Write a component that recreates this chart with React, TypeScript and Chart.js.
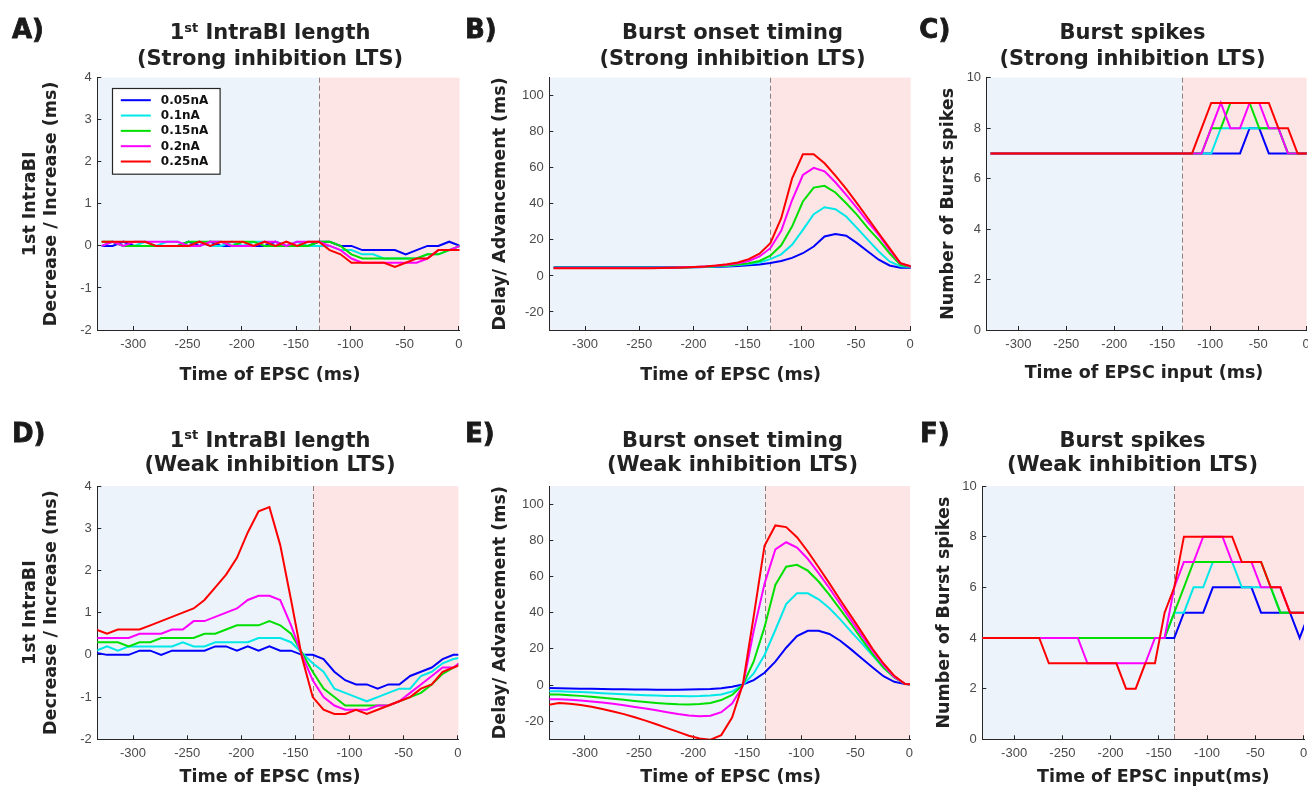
import React, { useEffect, useRef } from 'react';
import { Chart, registerables } from 'chart.js';

Chart.register(...registerables);

// ---------- data ----------
const strongTimes = [-329, -319, -309, -299, -289, -279, -269, -259, -249, -239, -229, -219, -209, -199, -189, -179, -169, -159, -149, -139, -129, -119, -109, -99, -89, -79, -69, -59, -49, -39, -29, -19, -9, 1];
const weakTimes = [-334, -324, -314, -304, -294, -284, -274, -264, -254, -244, -234, -224, -214, -204, -194, -184, -174, -164, -154, -144, -134, -124, -114, -104, -94, -84, -74, -64, -54, -44, -34, -24, -14, -4, 6];

const currentLabels = ['0.05nA', '0.1nA', '0.15nA', '0.2nA', '0.25nA'];
const seriesColors = ['#0000ff', '#00e8e8', '#00e000', '#ff00ff', '#ff0000'];

const strongOnsetTime = -129;
const weakOnsetTime = -134;

const timeTicks = [-300, -250, -200, -150, -100, -50, 0];
const intraTicks = [-2, -1, 0, 1, 2, 3, 4];
const onsetTicks = [-20, 0, 20, 40, 60, 80, 100];
const spikeTicks = [0, 2, 4, 6, 8, 10];

// A) 1st IntraBI length, strong inhibition
const intraStrong005 = [0, 0, 0.1, 0, 0, 0, 0, 0, 0.1, 0, 0.1, 0, 0, 0, 0, 0, 0.1, 0, 0, 0, 0.1, 0.1, 0, 0, -0.1, -0.1, -0.1, -0.1, -0.2, -0.1, 0, 0, 0.1, 0];
const intraStrong010 = [0, 0.1, 0, 0, 0.1, 0, 0.1, 0.1, 0, 0.1, 0, 0, 0.1, 0, 0.1, 0.1, 0, 0, 0.1, 0, 0, 0, -0.1, -0.1, -0.2, -0.2, -0.3, -0.3, -0.3, -0.3, -0.2, -0.2, -0.1, 0];
const intraStrong015 = [0.1, 0.1, 0, 0, 0, 0, 0, 0, 0.1, 0.1, 0.1, 0.1, 0, 0.1, 0.1, 0, 0, 0, 0, 0, 0.1, 0.1, 0, -0.2, -0.3, -0.3, -0.3, -0.3, -0.3, -0.3, -0.2, -0.2, -0.1, 0];
const intraStrong020 = [0, 0.1, 0, 0.1, 0.1, 0.1, 0.1, 0.1, 0, 0, 0.1, 0.1, 0, 0, 0, 0.1, 0.1, 0, 0.1, 0.1, 0.1, 0, -0.1, -0.3, -0.4, -0.4, -0.4, -0.4, -0.4, -0.4, -0.3, -0.1, -0.1, 0];
const intraStrong025 = [0.1, 0.1, 0.1, 0.1, 0.1, 0, 0, 0, 0, 0.1, 0, 0.1, 0.1, 0.1, 0, 0.1, 0, 0.1, 0, 0.1, 0.1, -0.1, -0.2, -0.4, -0.4, -0.4, -0.4, -0.5, -0.4, -0.3, -0.3, -0.1, -0.1, -0.1];

// B) Burst onset timing, strong inhibition
const onsetStrong005 = [4.8, 4.8, 4.8, 4.8, 4.8, 4.8, 4.8, 4.8, 4.8, 4.8, 4.8, 4.8, 4.8, 4.8, 4.9, 5.0, 5.2, 5.5, 5.9, 6.4, 7.2, 8.3, 10, 12.6, 16.3, 21.9, 23.2, 22.3, 18.2, 13.6, 9, 5.8, 4.5, 4.6];
const onsetStrong010 = [4.6, 4.6, 4.6, 4.6, 4.6, 4.6, 4.6, 4.6, 4.6, 4.6, 4.6, 4.6, 4.7, 4.8, 5.0, 5.2, 5.5, 6.0, 6.6, 7.5, 9.3, 12, 17.3, 25.6, 34.3, 38.1, 37, 33, 26.5, 20, 13.6, 8, 5.3, 5];
const onsetStrong015 = [4.5, 4.5, 4.5, 4.5, 4.5, 4.5, 4.5, 4.5, 4.5, 4.5, 4.5, 4.6, 4.7, 4.9, 5.1, 5.4, 5.8, 6.3, 7, 8.3, 11.2, 17, 27.4, 41.3, 49, 50, 46.3, 40.3, 33.9, 26.5, 20, 12.6, 6.2, 5];
const onsetStrong020 = [4.4, 4.4, 4.4, 4.4, 4.4, 4.4, 4.4, 4.4, 4.4, 4.4, 4.5, 4.6, 4.8, 5.0, 5.3, 5.7, 6.2, 7, 8.3, 10.8, 15.4, 25, 42, 56, 60, 58, 52, 45, 37.6, 30, 22.8, 14.5, 7, 5];
const onsetStrong025 = [4.3, 4.3, 4.3, 4.3, 4.3, 4.3, 4.3, 4.3, 4.3, 4.3, 4.4, 4.5, 4.7, 5.0, 5.3, 5.8, 6.5, 7.5, 9.3, 12.3, 18.2, 32, 54, 67.5, 67.5, 62.5, 55.7, 48.3, 40.3, 32, 23.7, 15.4, 7.1, 5.3];

// C) Burst spikes, strong inhibition
const spikesStrong005 = [7, 7, 7, 7, 7, 7, 7, 7, 7, 7, 7, 7, 7, 7, 7, 7, 7, 7, 7, 7, 7, 7, 7, 7, 7, 7, 7, 8, 8, 7, 7, 7, 7, 7];
const spikesStrong010 = [7, 7, 7, 7, 7, 7, 7, 7, 7, 7, 7, 7, 7, 7, 7, 7, 7, 7, 7, 7, 7, 7, 7, 7, 8, 8, 8, 8, 8, 8, 8, 7, 7, 7];
const spikesStrong015 = [7, 7, 7, 7, 7, 7, 7, 7, 7, 7, 7, 7, 7, 7, 7, 7, 7, 7, 7, 7, 7, 7, 7, 8, 8, 9, 9, 9, 8, 8, 8, 7, 7, 7];
const spikesStrong020 = [7, 7, 7, 7, 7, 7, 7, 7, 7, 7, 7, 7, 7, 7, 7, 7, 7, 7, 7, 7, 7, 7, 7, 8, 9, 8, 8, 9, 9, 8, 8, 7, 7, 7];
const spikesStrong025 = [7, 7, 7, 7, 7, 7, 7, 7, 7, 7, 7, 7, 7, 7, 7, 7, 7, 7, 7, 7, 7, 7, 8, 9, 9, 9, 9, 9, 9, 9, 8, 8, 7, 7];

// D) 1st IntraBI length, weak inhibition
const intraWeak005 = [0.05, 0, 0, 0, 0.1, 0.1, 0, 0.1, 0.1, 0.1, 0.1, 0.2, 0.2, 0.1, 0.2, 0.1, 0.2, 0.1, 0.1, 0, 0, -0.1, -0.4, -0.6, -0.7, -0.7, -0.8, -0.7, -0.7, -0.5, -0.4, -0.3, -0.1, 0, 0];
const intraWeak010 = [0.1, 0.2, 0.1, 0.2, 0.2, 0.2, 0.2, 0.2, 0.3, 0.2, 0.2, 0.3, 0.3, 0.3, 0.3, 0.4, 0.4, 0.4, 0.3, 0.05, -0.2, -0.4, -0.8, -0.9, -1.0, -1.1, -1.0, -0.9, -0.8, -0.8, -0.5, -0.4, -0.2, -0.1, -0.05];
const intraWeak015 = [0.3, 0.3, 0.3, 0.2, 0.3, 0.3, 0.4, 0.4, 0.4, 0.4, 0.5, 0.5, 0.6, 0.7, 0.7, 0.7, 0.8, 0.7, 0.5, 0.05, -0.4, -0.8, -1.0, -1.2, -1.2, -1.2, -1.2, -1.2, -1.1, -1.0, -0.9, -0.7, -0.45, -0.3, -0.15];
const intraWeak020 = [0.4, 0.4, 0.4, 0.4, 0.5, 0.5, 0.5, 0.6, 0.6, 0.8, 0.8, 0.9, 1.0, 1.1, 1.3, 1.4, 1.4, 1.3, 0.7, 0.0, -0.6, -1.0, -1.2, -1.3, -1.3, -1.3, -1.2, -1.2, -1.1, -0.9, -0.7, -0.5, -0.3, -0.3, -0.1];
const intraWeak025 = [0.6, 0.5, 0.6, 0.6, 0.6, 0.7, 0.8, 0.9, 1.0, 1.1, 1.3, 1.6, 1.9, 2.3, 2.9, 3.4, 3.5, 2.6, 1.3, -0.05, -1.0, -1.3, -1.4, -1.4, -1.3, -1.4, -1.3, -1.2, -1.1, -1.0, -0.8, -0.7, -0.4, -0.3, -0.2];

// E) Burst onset timing, weak inhibition
const onsetWeak005 = [-1.7, -1.8, -1.9, -2, -2.1, -2.2, -2.3, -2.4, -2.5, -2.5, -2.6, -2.6, -2.6, -2.5, -2.4, -2.2, -1.8, -1, 0.3, 2.7, 6.8, 12.9, 20.6, 27, 30, 30, 28.2, 24.5, 19.7, 14.7, 9.7, 4.9, 1.8, 0.5, 0.4];
const onsetWeak010 = [-3.4, -3.5, -3.7, -3.9, -4.2, -4.5, -4.8, -5.1, -5.4, -5.6, -5.8, -6, -6.1, -6.2, -6.1, -5.8, -5.2, -3.6, 0, 6.4, 16.6, 30.4, 44.7, 50.7, 50.7, 47.4, 42.4, 36.3, 29.5, 23, 16.2, 9.5, 4.2, 0.5, 0.4];
const onsetWeak015 = [-5.2, -5.3, -5.6, -6, -6.5, -7, -7.6, -8.2, -8.8, -9.4, -9.9, -10.3, -10.6, -10.7, -10.5, -9.9, -8.3, -5.5, 0, 13, 32, 55.3, 65.4, 66.4, 63.2, 57.2, 49.8, 41.8, 33.7, 25.2, 17.1, 9.7, 4.2, 0.5, 0.4];
const onsetWeak020 = [-7.8, -7.9, -8.2, -8.6, -9.1, -9.7, -10.4, -11.2, -12.1, -13, -14, -15, -16, -16.8, -17.2, -17, -15, -10.2, -0.5, 30, 56, 75, 78.9, 76, 69.7, 61.8, 53.5, 44.8, 35.9, 27.2, 18.9, 11, 4.5, 0.5, 0.4];
const onsetWeak025 = [-11, -10, -10.4, -11, -12, -13.2, -14.6, -16.1, -17.8, -19.7, -21.7, -23.8, -25.9, -28, -29.5, -30.2, -27.7, -18, 0.5, 38, 77, 88.2, 87.3, 81.7, 73.8, 65.1, 56.2, 47, 38.1, 29.1, 19.9, 11.9, 5.1, 0.5, 0.4];

// F) Burst spikes, weak inhibition
const spikesWeak005 = [4, 4, 4, 4, 4, 4, 4, 4, 4, 4, 4, 4, 4, 4, 4, 4, 4, 4, 4, 4, 4, 5, 5, 5, 6, 6, 6, 6, 6, 5, 5, 5, 5, 4, 5];
const spikesWeak010 = [4, 4, 4, 4, 4, 4, 4, 4, 4, 4, 4, 4, 4, 4, 4, 4, 4, 4, 4, 4, 5, 5, 6, 6, 7, 7, 7, 6, 6, 6, 6, 5, 5, 5, 5];
const spikesWeak015 = [4, 4, 4, 4, 4, 4, 4, 4, 4, 4, 4, 4, 4, 4, 4, 4, 4, 4, 4, 4, 5, 6, 7, 7, 7, 7, 7, 7, 7, 7, 6, 5, 5, 5, 5];
const spikesWeak020 = [4, 4, 4, 4, 4, 4, 4, 4, 4, 4, 4, 3, 3, 3, 3, 3, 3, 3, 4, 4, 6, 7, 7, 8, 8, 8, 7, 7, 7, 6, 6, 6, 5, 5, 5];
const spikesWeak025 = [4, 4, 4, 4, 4, 4, 4, 3, 3, 3, 3, 3, 3, 3, 3, 2, 2, 3, 3, 5, 6, 8, 8, 8, 8, 8, 8, 7, 7, 7, 6, 6, 5, 5, 5];

// ---------- styling ----------
const AXIS_COLOR = '#262626';
const TICK_COLOR = '#4a4a4a';
const TEXT_COLOR = '#222222';
const BG_BEFORE = '#ECF3FA';
const BG_AFTER = '#FDE5E5';
const BOLD_FAMILY = '"DejaVu Sans", sans-serif';
const TICK_FAMILY = '"Liberation Sans", Arial, sans-serif';

type Seg = { t: string; sup?: boolean };

type PanelCfg = {
  left: number; top: number; w: number; h: number;
  yW: number; padTop: number; padRight: number; xH: number;
  times: number[]; series: number[][]; divider: number;
  yMin: number; yMax: number; yTicks: number[];
  yTitle: string | string[]; yTitlePad: number;
  letter: string; letterX: number; letterY: number;
  title1: Seg[]; title2: string; titleX: number; title1Y: number; title2Y: number;
  xTitle: string; xTitleX: number; xTitleY: number;
  legend?: boolean;
};

const sup1st: Seg[] = [{ t: '1' }, { t: 'st', sup: true }, { t: ' IntraBI length' }];

const panels: PanelCfg[] = [
  {
    left: 0, top: 0, w: 462, h: 393, yW: 97.3, padTop: 77.7, padRight: 2.5, xH: 63,
    times: strongTimes, series: [intraStrong005, intraStrong010, intraStrong015, intraStrong020, intraStrong025],
    divider: strongOnsetTime, yMin: -2, yMax: 4, yTicks: intraTicks,
    yTitle: ['1st IntraBI', 'Decrease / Increase (ms)'], yTitlePad: 20.3,
    letter: 'A)', letterX: 12, letterY: 37.5,
    title1: sup1st, title2: '(Strong inhibition LTS)', titleX: 270, title1Y: 39.3, title2Y: 64.5,
    xTitle: 'Time of EPSC (ms)', xTitleX: 270, xTitleY: 379.5, legend: true,
  },
  {
    left: 462, top: 0, w: 453, h: 393, yW: 87.3, padTop: 77.7, padRight: 4.3, xH: 63,
    times: strongTimes, series: [onsetStrong005, onsetStrong010, onsetStrong015, onsetStrong020, onsetStrong025],
    divider: strongOnsetTime, yMin: -30, yMax: 110, yTicks: onsetTicks,
    yTitle: 'Delay/ Advancement (ms)', yTitlePad: 28,
    letter: 'B)', letterX: 3, letterY: 37.5,
    title1: [{ t: 'Burst onset timing' }], title2: '(Strong inhibition LTS)', titleX: 270.5, title1Y: 39.3, title2Y: 64.5,
    xTitle: 'Time of EPSC (ms)', xTitleX: 268.7, xTitleY: 379.5,
  },
  {
    left: 915, top: 0, w: 393, h: 393, yW: 71.7, padTop: 77.7, padRight: 1.3, xH: 63,
    times: strongTimes, series: [spikesStrong005, spikesStrong010, spikesStrong015, spikesStrong020, spikesStrong025],
    divider: strongOnsetTime, yMin: 0, yMax: 10, yTicks: spikeTicks,
    yTitle: 'Number of Burst spikes', yTitlePad: 22.8,
    letter: 'C)', letterX: 4.3, letterY: 37.5,
    title1: [{ t: 'Burst spikes' }], title2: '(Strong inhibition LTS)', titleX: 217.5, title1Y: 39.3, title2Y: 64.5,
    xTitle: 'Time of EPSC input (ms)', xTitleX: 229, xTitleY: 377.5,
  },
  {
    left: 0, top: 393, w: 462, h: 394, yW: 97.3, padTop: 93, padRight: 3.7, xH: 47.7,
    times: weakTimes, series: [intraWeak005, intraWeak010, intraWeak015, intraWeak020, intraWeak025],
    divider: weakOnsetTime, yMin: -2, yMax: 4, yTicks: intraTicks,
    yTitle: ['1st IntraBI', 'Decrease / Increase (ms)'], yTitlePad: 20.3,
    letter: 'D)', letterX: 12, letterY: 48.7,
    title1: sup1st, title2: '(Weak inhibition LTS)', titleX: 270, title1Y: 53.7, title2Y: 78,
    xTitle: 'Time of EPSC (ms)', xTitleX: 270, xTitleY: 389,
  },
  {
    left: 462, top: 393, w: 453, h: 394, yW: 87.3, padTop: 93, padRight: 5, xH: 47.7,
    times: weakTimes, series: [onsetWeak005, onsetWeak010, onsetWeak015, onsetWeak020, onsetWeak025],
    divider: weakOnsetTime, yMin: -30, yMax: 110, yTicks: onsetTicks,
    yTitle: 'Delay/ Advancement (ms)', yTitlePad: 28.3,
    letter: 'E)', letterX: 3, letterY: 48.7,
    title1: [{ t: 'Burst onset timing' }], title2: '(Weak inhibition LTS)', titleX: 270.5, title1Y: 53.7, title2Y: 78,
    xTitle: 'Time of EPSC (ms)', xTitleX: 268.7, xTitleY: 389,
  },
  {
    left: 915, top: 393, w: 393, h: 394, yW: 67.3, padTop: 93, padRight: 4, xH: 47.7,
    times: weakTimes, series: [spikesWeak005, spikesWeak010, spikesWeak015, spikesWeak020, spikesWeak025],
    divider: weakOnsetTime, yMin: 0, yMax: 10, yTicks: spikeTicks,
    yTitle: 'Number of Burst spikes', yTitlePad: 18.7,
    letter: 'F)', letterX: 5, letterY: 48.7,
    title1: [{ t: 'Burst spikes' }], title2: '(Weak inhibition LTS)', titleX: 217.5, title1Y: 53.7, title2Y: 78,
    xTitle: 'Time of EPSC input(ms)', xTitleX: 238.3, xTitleY: 389,
  },
];

function drawRich(ctx: CanvasRenderingContext2D, segs: Seg[], cx: number, baseline: number, size: number) {
  const main = `bold ${size}px ${BOLD_FAMILY}`;
  const sup = `bold ${Math.round(size * 0.62)}px ${BOLD_FAMILY}`;
  const widths = segs.map((s) => {
    ctx.font = s.sup ? sup : main;
    return ctx.measureText(s.t).width;
  });
  const total = widths.reduce((a, b) => a + b, 0);
  let x = cx - total / 2;
  segs.forEach((s, i) => {
    ctx.font = s.sup ? sup : main;
    ctx.fillText(s.t, x, s.sup ? baseline - size * 0.36 : baseline);
    x += widths[i];
  });
}

function makeDeco(cfg: PanelCfg) {
  return {
    id: 'panelDeco',
    beforeDraw(chart: any) {
      const { ctx, chartArea: a, scales } = chart;
      const d = scales.x.getPixelForValue(cfg.divider);
      ctx.save();
      ctx.fillStyle = BG_BEFORE;
      ctx.fillRect(a.left, a.top, d - a.left, a.bottom - a.top);
      ctx.fillStyle = BG_AFTER;
      ctx.fillRect(d, a.top, a.right - d, a.bottom - a.top);
      ctx.restore();
    },
    beforeDatasetsDraw(chart: any) {
      const { ctx, chartArea: a, scales } = chart;
      const d = Math.round(scales.x.getPixelForValue(cfg.divider)) + 0.5;
      ctx.save();
      ctx.strokeStyle = '#8a8080';
      ctx.lineWidth = 1;
      ctx.setLineDash([5, 3]);
      ctx.beginPath();
      ctx.moveTo(d, a.top);
      ctx.lineTo(d, a.bottom);
      ctx.stroke();
      ctx.restore();
    },
    afterDraw(chart: any) {
      const { ctx, chartArea: a } = chart;
      ctx.save();
      ctx.fillStyle = '#1a1a1a';
      ctx.textAlign = 'left';
      ctx.textBaseline = 'alphabetic';
      ctx.font = `bold 26px ${BOLD_FAMILY}`;
      ctx.fillText(cfg.letter, cfg.letterX, cfg.letterY);
      ctx.lineWidth = 0.8;
      ctx.strokeStyle = '#1a1a1a';
      ctx.strokeText(cfg.letter, cfg.letterX, cfg.letterY);

      ctx.fillStyle = TEXT_COLOR;
      drawRich(ctx, cfg.title1, cfg.titleX, cfg.title1Y, 21);
      drawRich(ctx, [{ t: cfg.title2 }], cfg.titleX, cfg.title2Y, 21);

      ctx.font = `bold 17.5px ${BOLD_FAMILY}`;
      ctx.textAlign = 'center';
      ctx.fillText(cfg.xTitle, cfg.xTitleX, cfg.xTitleY);

      if (cfg.legend) {
        const bx = Math.round(a.left + 14.4) + 0.5;
        const by = Math.round(a.top + 10.6) + 0.5;
        const bw = 107.6;
        const bh = 85.7;
        ctx.fillStyle = '#ffffff';
        ctx.fillRect(bx, by, bw, bh);
        ctx.strokeStyle = '#262626';
        ctx.lineWidth = 1.2;
        ctx.strokeRect(bx, by, bw, bh);
        ctx.font = `bold 12px ${BOLD_FAMILY}`;
        ctx.textAlign = 'left';
        ctx.textBaseline = 'middle';
        chart.data.datasets.forEach((ds: any, i: number) => {
          const y = by + 11.7 + i * 15.33;
          ctx.strokeStyle = ds.borderColor;
          ctx.lineWidth = 2;
          ctx.beginPath();
          ctx.moveTo(bx + 8.3, y);
          ctx.lineTo(bx + 38.3, y);
          ctx.stroke();
          ctx.fillStyle = '#111111';
          ctx.fillText(ds.label, bx + 48.3, y + 0.5);
        });
      }
      ctx.restore();
    },
  };
}

function Panel({ cfg }: { cfg: PanelCfg }) {
  const ref = useRef<HTMLCanvasElement>(null);
  useEffect(() => {
    const canvas = ref.current;
    if (!canvas) return;
    const tickFont = { family: TICK_FAMILY, size: 13, lineHeight: 1.2 };
    const n = cfg.series.length;
    const chart = new Chart(canvas, {
      type: 'line',
      data: {
        datasets: cfg.series.map((vals, i) => ({
          label: currentLabels[i],
          data: vals.map((v, j) => ({ x: cfg.times[j], y: v })),
          borderColor: seriesColors[i],
          backgroundColor: seriesColors[i],
          borderWidth: 2,
          pointRadius: 0,
          pointHoverRadius: 0,
          tension: 0,
          fill: false,
          order: n - 1 - i,
        })),
      },
      options: {
        animation: false,
        responsive: false,
        devicePixelRatio: 1,
        events: [],
        layout: { padding: { left: 0, top: cfg.padTop, right: cfg.padRight, bottom: 0 } },
        plugins: {
          legend: { display: false },
          tooltip: { enabled: false },
          title: { display: false },
        },
        scales: {
          x: {
            type: 'linear',
            position: 'bottom',
            min: -333,
            max: 0.5,
            afterBuildTicks: (s: any) => {
              s.ticks = timeTicks.map((v) => ({ value: v }));
            },
            afterFit: (s: any) => {
              s.height = cfg.xH;
              s.paddingLeft = 0;
              s.paddingRight = 0;
            },
            grid: { drawOnChartArea: false, drawTicks: true, tickLength: -4, color: AXIS_COLOR, lineWidth: 1 },
            border: { display: true, color: AXIS_COLOR, width: 1 },
            ticks: {
              padding: 10.2,
              font: tickFont,
              color: TICK_COLOR,
              maxRotation: 0,
              minRotation: 0,
              autoSkip: false,
              callback: (v: any) => String(v),
            },
            title: { display: false },
          },
          y: {
            type: 'linear',
            position: 'left',
            min: cfg.yMin,
            max: cfg.yMax,
            afterBuildTicks: (s: any) => {
              s.ticks = cfg.yTicks.map((v) => ({ value: v }));
            },
            afterFit: (s: any) => {
              s.width = cfg.yW;
              s.paddingTop = 0;
              s.paddingBottom = 0;
            },
            grid: { drawOnChartArea: false, drawTicks: true, tickLength: -4, color: AXIS_COLOR, lineWidth: 1 },
            border: { display: true, color: AXIS_COLOR, width: 1 },
            ticks: {
              padding: 9.6,
              font: tickFont,
              color: TICK_COLOR,
              autoSkip: false,
              callback: (v: any) => String(v),
            },
            title: {
              display: true,
              text: cfg.yTitle,
              color: TEXT_COLOR,
              font: { family: BOLD_FAMILY, size: 17.5, weight: 'bold', lineHeight: 1.2 },
              padding: { top: cfg.yTitlePad, bottom: 0 },
            },
          },
        },
      } as any,
      plugins: [makeDeco(cfg)],
    });
    return () => chart.destroy();
  }, [cfg]);
  return (
    <canvas
      ref={ref}
      width={cfg.w}
      height={cfg.h}
      style={{ position: 'absolute', left: cfg.left, top: cfg.top, width: cfg.w, height: cfg.h }}
    />
  );
}

export default function App() {
  return (
    <div style={{ position: 'absolute', left: 0, top: 0, width: 1308, height: 787, background: '#ffffff', overflow: 'hidden' }}>
      {panels.map((p) => (
        <Panel key={p.letter} cfg={p} />
      ))}
    </div>
  );
}
